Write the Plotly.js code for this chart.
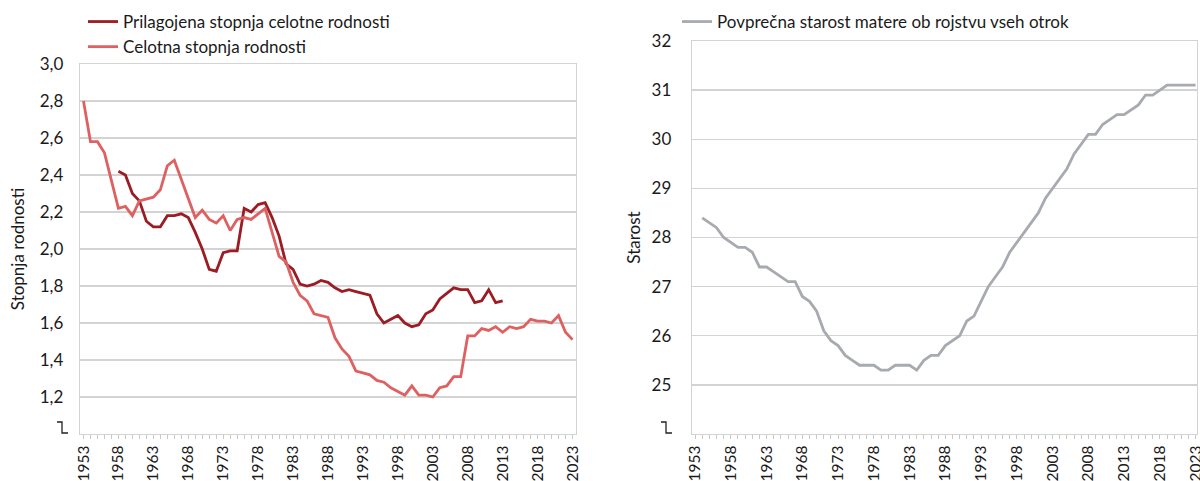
<!DOCTYPE html>
<html>
<head>
<meta charset="utf-8">
<script src="https://cdn.plot.ly/plotly-3.0.1.min.js"></script>
<style>html,body{margin:0;padding:0;background:#fff;}#chart{width:1200px;height:481px;}</style>
</head>
<body>
<div id="chart"></div>
<script>
// ---- data ----
const years = ['1953','1954','1955','1956','1957','1958','1959','1960','1961','1962','1963','1964','1965','1966','1967','1968','1969','1970','1971','1972','1973','1974','1975','1976','1977','1978','1979','1980','1981','1982','1983','1984','1985','1986','1987','1988','1989','1990','1991','1992','1993','1994','1995','1996','1997','1998','1999','2000','2001','2002','2003','2004','2005','2006','2007','2008','2009','2010','2011','2012','2013','2014','2015','2016','2017','2018','2019','2020','2021','2022','2023'];
const labelYears = ['1953','1958','1963','1968','1973','1978','1983','1988','1993','1998','2003','2008','2013','2018','2023'];

// Celotna stopnja rodnosti, 1953-2023
const celotna = [2.80,2.58,2.58,2.52,2.37,2.22,2.23,2.18,2.26,2.27,2.28,2.32,2.45,2.48,2.38,2.27,2.17,2.21,2.16,2.14,2.18,2.10,2.16,2.17,2.16,2.19,2.22,2.09,1.96,1.93,1.82,1.75,1.72,1.65,1.64,1.63,1.52,1.46,1.42,1.34,1.33,1.32,1.29,1.28,1.25,1.23,1.21,1.26,1.21,1.21,1.20,1.25,1.26,1.31,1.31,1.53,1.53,1.57,1.56,1.58,1.55,1.58,1.57,1.58,1.62,1.61,1.61,1.60,1.64,1.55,1.51];

// Prilagojena stopnja celotne rodnosti, 1958-2013
const prilagojenaStart = '1958';
const prilagojena = [2.42,2.40,2.30,2.26,2.15,2.12,2.12,2.18,2.18,2.19,2.17,2.09,2.00,1.89,1.88,1.98,1.99,1.99,2.22,2.20,2.24,2.25,2.17,2.07,1.92,1.89,1.81,1.80,1.81,1.83,1.82,1.79,1.77,1.78,1.77,1.76,1.75,1.65,1.60,1.62,1.64,1.60,1.58,1.59,1.65,1.67,1.73,1.76,1.79,1.78,1.78,1.71,1.72,1.78,1.71,1.72];

// Povprečna starost matere ob rojstvu vseh otrok, 1954-2023
const starostStart = '1954';
const starost = [28.4,28.3,28.2,28.0,27.9,27.8,27.8,27.7,27.4,27.4,27.3,27.2,27.1,27.1,26.8,26.7,26.5,26.1,25.9,25.8,25.6,25.5,25.4,25.4,25.4,25.3,25.3,25.4,25.4,25.4,25.3,25.5,25.6,25.6,25.8,25.9,26.0,26.3,26.4,26.7,27.0,27.2,27.4,27.7,27.9,28.1,28.3,28.5,28.8,29.0,29.2,29.4,29.7,29.9,30.1,30.1,30.3,30.4,30.5,30.5,30.6,30.7,30.9,30.9,31.0,31.1,31.1,31.1,31.1,31.1];

const leftTicks = [1.2,1.4,1.6,1.8,2.0,2.2,2.4,2.6,2.8,3.0];
const rightTicks = [25,26,27,28,29,30,31,32];

// ---- styling ----
const FONT = 'Lato, "Open Sans", sans-serif';
const FS = 17;
const XFS = 15.5;
const TXT = '#1a1a1a';
const GRID = '#d3d3d3';
const W = 1200, H = 481;
const px = v => v / W, py = v => 1 - v / H;

const pStart = years.indexOf(prilagojenaStart);
const sStart = years.indexOf(starostStart);

const traces = [
  {x: years.slice(pStart, pStart + prilagojena.length), y: prilagojena, type: 'scatter', mode: 'lines',
   name: 'Prilagojena stopnja celotne rodnosti', line: {color: '#9b1c22', width: 2.8},
   xaxis: 'x', yaxis: 'y', legend: 'legend', hoverinfo: 'x+y'},
  {x: years, y: celotna, type: 'scatter', mode: 'lines',
   name: 'Celotna stopnja rodnosti', line: {color: '#de6061', width: 2.8},
   xaxis: 'x', yaxis: 'y', legend: 'legend', hoverinfo: 'x+y'},
  {x: years.slice(sStart, sStart + starost.length), y: starost, type: 'scatter', mode: 'lines',
   name: 'Povprečna starost matere ob rojstvu vseh otrok', line: {color: '#a7abb0', width: 2.8},
   xaxis: 'x2', yaxis: 'y2', legend: 'legend2', hoverinfo: 'x+y'}
];

const ticktext = years.map(y => labelYears.includes(y) ? y : '');

function xAxis(domain, range, anchor) {
  return {
    type: 'category', categoryorder: 'array', categoryarray: years,
    domain: domain, range: range, anchor: anchor,
    tickmode: 'array', tickvals: years, ticktext: ticktext,
    tickangle: -90, ticks: 'outside', ticklen: 4, tickcolor: '#c8c8c8', tickwidth: 1,
    showgrid: false, zeroline: false,
    showline: true, mirror: true, linecolor: GRID, linewidth: 1.3,
    tickfont: {family: FONT, size: XFS, color: TXT}, fixedrange: true
  };
}

function yAxis(domain, range, tickvals, fmt, anchor, title, standoff, labelGap) {
  return {
    domain: domain, range: range, anchor: anchor,
    tickmode: 'array', tickvals: tickvals, tickformat: fmt,
    ticks: '', ticklabelstandoff: labelGap,
    showgrid: true, gridcolor: GRID, gridwidth: 1.3, zeroline: false,
    showline: true, mirror: true, linecolor: GRID, linewidth: 1.3,
    tickfont: {family: FONT, size: FS, color: TXT}, fixedrange: true,
    title: {text: title, font: {family: FONT, size: FS, color: TXT}, standoff: standoff}
  };
}

const breakShape = (x0, x1, x2, yTop, yBot) => ({
  type: 'path', xref: 'paper', yref: 'paper',
  path: `M ${px(x0)},${py(yTop)} L ${px(x1)},${py(yTop)} L ${px(x1)},${py(yBot)} L ${px(x2)},${py(yBot)}`,
  line: {color: '#222', width: 1.3}
});

const layout = {
  width: W, height: H,
  margin: {l: 0, r: 0, t: 0, b: 0},
  paper_bgcolor: '#fff', plot_bgcolor: '#fff',
  separators: ', ',
  font: {family: FONT, size: FS, color: TXT},
  showlegend: true,
  xaxis: xAxis([px(80), px(576)], [-0.5, 70.5], 'y'),
  yaxis: yAxis([py(434), py(64)], [1.0, 3.0], leftTicks, '.1f', 'x', 'Stopnja rodnosti', 10, 12),
  xaxis2: xAxis([px(692), px(1197)], [-0.43, 70.19], 'y2'),
  yaxis2: yAxis([py(434), py(41)], [24, 32], rightTicks, 'd', 'x2', 'Starost', 6, 16),
  legend: {x: px(83), y: py(4), xanchor: 'left', yanchor: 'top', orientation: 'v',
           bgcolor: 'rgba(0,0,0,0)', borderwidth: 0, tracegroupgap: 0,
           font: {family: FONT, size: FS, color: TXT}},
  legend2: {x: px(677), y: py(4), xanchor: 'left', yanchor: 'top', orientation: 'v',
            bgcolor: 'rgba(0,0,0,0)', borderwidth: 0,
            font: {family: FONT, size: FS, color: TXT}},
  shapes: [
    breakShape(57, 62, 68, 422, 433),
    breakShape(661, 666, 672, 422, 433)
  ]
};

Plotly.newPlot('chart', traces, layout, {displayModeBar: false, staticPlot: true});
</script>
</body>
</html>
